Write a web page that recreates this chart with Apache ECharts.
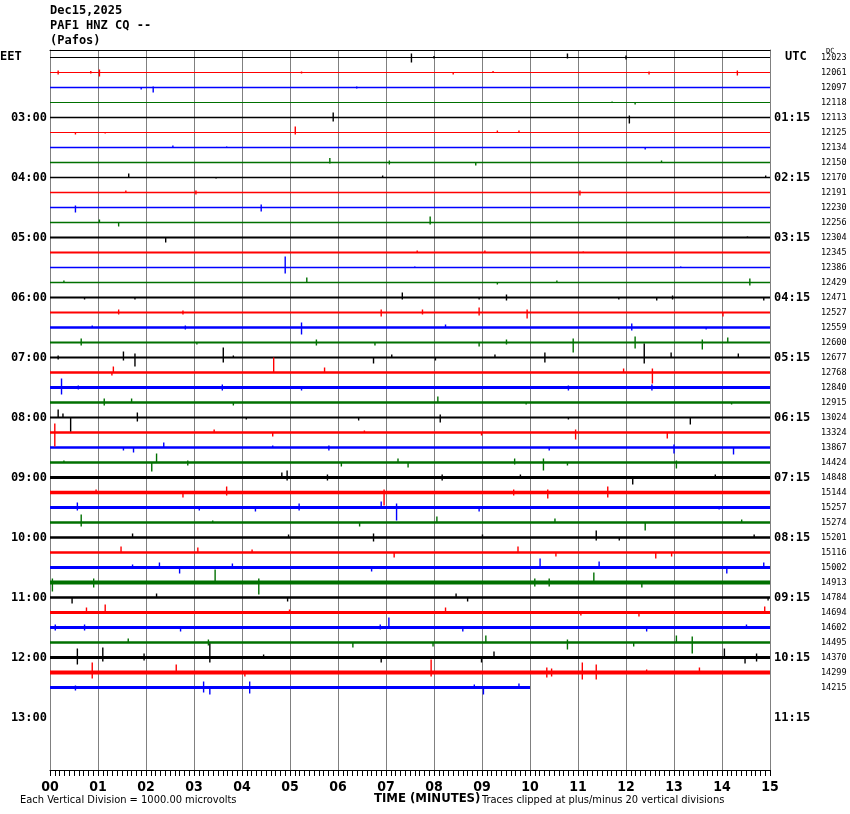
<!DOCTYPE html>
<html>
<head>
<meta charset="utf-8">
<script src="https://cdn.jsdelivr.net/npm/echarts@6/dist/echarts.min.js"></script>
<style>
html,body{margin:0;padding:0;background:#fff;}
#chart{width:850px;height:814px;}
</style>
</head>
<body>
<div id="chart"></div>
<script>
// ---------- DATA ----------
const titleLines = ['Dec15,2025', 'PAF1 HNZ CQ --', '(Pafos)'];
const minuteTicks = ['00','01','02','03','04','05','06','07','08','09','10','11','12','13','14','15'];
const hourLabelsEET = ['03:00','04:00','05:00','06:00','07:00','08:00','09:00','10:00','11:00','12:00','13:00'];
const hourLabelsUTC = ['01:15','02:15','03:15','04:15','05:15','06:15','07:15','08:15','09:15','10:15','11:15'];
const traceCounts = [12023,12061,12097,12118,12113,12125,12134,12150,12170,12191,12230,12256,12304,12345,12386,12429,
  12471,12527,12559,12600,12677,12768,12840,12915,13024,13324,13867,14424,14848,15144,15257,15274,
  15201,15116,15002,14913,14784,14694,14602,14495,14370,14299,14215];
const traceColors = ['#000000', '#ff0000', '#0000ff', '#007000'];
// background noise level of each trace (peak, in vertical divisions)
const traceNoise = [1,1,1.3,1,1.3,1,1.5,1.5,1.5,1.5,1.5,1.5,2,2,1.5,1.5,2,2,2.5,2,2,2.5,3,2.5,2,2.5,2.5,2.5,3,3.5,3,2.5,2.5,2.5,3,4,2.5,3,3,2.5,3,4,3];
// last trace stops at this minute
const lastTraceEnd = 10;
// notable wiggles for each trace: [minute, peak up, peak down] in vertical divisions
const spikes = [
  [[7.53,4,5],[8.0,1.5,1],[10.78,4,1],[12.0,2,2]],
  [[0.17,2,2],[0.85,1.5,1],[1.03,3,4],[5.24,1,1],[8.4,0,2],[9.23,1.5,0],[12.48,1,2],[14.32,2,3]],
  [[1.9,0,2],[2.15,1,5],[6.39,1,1]],
  [[11.71,1,0],[12.19,0,2]],
  [[5.9,5,4],[12.07,2,6]],
  [[0.53,0,2],[1.15,0,1],[5.11,6,2],[9.32,2,0],[9.77,2,0]],
  [[2.56,2,0],[3.68,1,0],[12.4,0,2]],
  [[5.83,4.5,1],[7.07,2,2],[8.87,0,3],[12.74,2,0]],
  [[1.64,4,0],[3.46,0,1],[6.93,2,0],[14.91,2,0]],
  [[1.58,2,0],[3.04,2,2],[11.04,2,3]],
  [[0.53,2,5],[4.4,3,4]],
  [[1.03,3,0],[1.43,0,4],[7.92,6,2]],
  [[2.41,0,5],[14.53,1,0]],
  [[7.65,2,0],[9.06,2,0],[11.11,1,0]],
  [[4.9,11,6],[7.6,1,0],[13.14,1,0]],
  [[0.29,2,0],[5.35,5,0],[9.32,0,2],[10.56,2,0],[14.58,4,3]],
  [[0.72,0,2],[1.77,0,2],[7.34,5,2],[8.94,0,2],[9.51,3,3],[11.85,0,2],[12.64,0,3],[12.97,2,2],[14.87,0,3]],
  [[1.43,3,2],[2.77,2,2],[6.9,3,4],[7.76,3,2],[8.94,5,3],[9.94,3,6],[14.02,0,4]],
  [[0.88,2,0],[2.82,2,2],[5.24,5,7],[8.24,3,0],[12.12,4,3],[13.67,0,2]],
  [[0.65,4,3],[3.06,0,2],[5.55,3,3],[6.77,0,3],[8.94,0,4],[9.51,3,2],[10.9,4,10],[12.19,6,6],[13.59,3,7],[14.12,5,0]],
  [[0.17,2,2],[1.53,6,3],[1.77,4,9],[3.61,10,5],[3.82,2,0],[6.74,0,6],[7.12,3,0],[8.03,0,3],[9.27,3,0],[10.31,5,5],[12.38,14,6],[12.94,5,0],[14.34,4,0]],
  [[1.29,0,3],[1.32,6,0],[4.66,15,0],[5.72,5,0],[11.95,4,0],[12.55,4,11]],
  [[0.24,9,7],[0.59,2,2],[3.59,3,3],[5.24,0,3],[10.8,2,3],[12.54,3,3]],
  [[1.13,4,3],[1.7,4,0],[3.82,0,3],[8.08,6,0],[9.92,0,2],[14.2,0,2]],
  [[0.17,8,0],[0.27,4,0],[0.43,0,14],[1.82,5,4],[4.09,0,2],[6.43,0,3],[8.13,3,5],[10.8,0,2],[13.34,0,7]],
  [[0.1,9,14],[3.42,3,0],[4.64,0,4],[6.55,2,0],[8.99,0,3],[10.95,3,7],[12.86,0,6]],
  [[1.53,0,3],[1.74,0,5],[2.37,5,0],[4.64,2,0],[5.81,2,3],[10.4,0,3],[13.0,3,6],[14.24,0,7]],
  [[0.29,2,0],[2.12,0,9],[2.22,9,0],[2.87,2,3],[6.07,0,4],[7.25,4,0],[7.46,0,5],[9.68,4,2],[10.28,4,8],[10.78,0,3],[13.05,2,6]],
  [[4.83,5,0],[4.94,7,3],[5.78,3,3],[8.17,3,3],[9.8,3,0],[12.14,0,7],[13.86,3,0]],
  [[0.96,3,0],[2.77,0,5],[3.68,6,3],[6.96,3,13],[9.66,3,3],[10.37,3,6],[11.62,6,5]],
  [[0.57,5,3],[3.11,0,3],[4.28,0,4],[5.19,4,3],[6.9,6,0],[7.22,4,13],[8.94,0,4],[13.94,0,2]],
  [[0.65,8,4],[3.39,2,0],[6.45,0,4],[8.06,6,0],[10.52,4,0],[12.4,0,8],[14.41,3,0]],
  [[1.72,4,0],[4.97,3,0],[6.74,4,4],[9.01,3,0],[11.38,7,3],[11.86,0,3],[14.67,3,0]],
  [[1.48,6,0],[3.08,5,0],[4.21,3,0],[7.17,0,5],[9.75,6,0],[10.54,0,4],[12.62,0,6],[12.95,0,4]],
  [[1.72,3,0],[2.28,5,0],[2.7,0,6],[3.8,4,0],[6.7,0,4],[10.21,9,0],[11.44,6,0],[14.1,0,6],[14.87,5,0]],
  [[0.05,4,9],[0.91,4,5],[3.44,13,0],[4.35,4,12],[10.1,4,4],[10.4,4,4],[11.33,10,0],[12.33,0,5]],
  [[0.46,0,6],[2.22,4,0],[4.95,0,4],[8.46,4,0],[8.7,0,4],[14.96,0,3]],
  [[0.76,5,0],[1.15,8,0],[4.99,3,0],[8.24,5,0],[11.06,0,3],[12.27,0,4],[14.89,6,0]],
  [[0.11,3,3],[0.72,3,3],[2.72,0,4],[6.88,3,2],[7.06,10,0],[8.6,0,4],[12.43,0,4],[14.51,3,0]],
  [[1.63,4,0],[3.3,3,3],[6.31,0,5],[7.98,0,4],[9.08,7,0],[10.78,3,7],[12.16,0,4],[13.05,7,0],[13.38,6,11]],
  [[0.57,9,7],[1.1,10,4],[1.96,4,3],[3.33,14,5],[4.45,3,0],[6.9,0,5],[8.99,0,5],[9.25,6,0],[14.05,9,0],[14.48,0,6],[14.72,4,4]],
  [[0.88,10,6],[2.63,8,0],[4.06,0,4],[7.94,13,4],[10.35,5,5],[10.45,4,4],[11.09,10,7],[11.38,8,7],[12.43,3,0],[13.53,5,0]],
  [[0.53,2,3],[3.2,6,5],[3.33,0,7],[4.16,6,6],[8.84,3,0],[9.03,0,7],[9.77,4,0]]
];
const DIV_PER_TRACE = 15;   // vertical divisions between neighbouring traces
const TRACE_SLOTS = 48;     // 12 hours x 4 traces per hour

// ---------- BUILD ----------
const monoBold = "'DejaVu Sans Mono', monospace";
const narrow = "'Liberation Sans Narrow','DejaVu Sans Condensed',sans-serif";
const series = [];
spikes.forEach((ev, i) => {
  const color = traceColors[i % 4];
  const tEnd = (i === spikes.length - 1) ? lastTraceEnd : 15;
  // baseline / background noise band
  series.push({
    type: 'line', silent: true, symbol: 'none', animation: false,
    data: [[0, i], [tEnd, i]],
    lineStyle: { color: color, width: traceNoise[i] },
    z: 2
  });
  // wiggles: vertical strokes from the peak up to the peak down
  series.push({
    type: 'custom', silent: true, animation: false, z: 3,
    data: ev.map(([t, up, dn]) => [t, i, i - up / DIV_PER_TRACE, i + dn / DIV_PER_TRACE]),
    encode: { x: 0, y: [1, 2, 3] },
    renderItem: (params, api) => {
      const top = api.coord([api.value(0), api.value(2)]);
      const bot = api.coord([api.value(0), api.value(3)]);
      return {
        type: 'line',
        shape: { x1: top[0], y1: top[1], x2: bot[0], y2: bot[1] },
        style: { stroke: color, lineWidth: 1.4 }
      };
    }
  });
});

const hourVals = hourLabelsEET.map((_, k) => (k + 1) * 4);
const countVals = traceCounts.map((_, k) => k);

const chart = echarts.init(document.getElementById('chart'), null, { renderer: 'canvas' });
chart.setOption({
  animation: false,
  backgroundColor: '#ffffff',
  grid: { left: 50, right: 80, top: 50, bottom: 44 },
  xAxis: [{
    type: 'value', min: 0, max: 15, interval: 1, position: 'bottom',
    axisLine: { show: true, onZero: false, lineStyle: { color: '#000', width: 1 } },
    axisTick: { show: true, length: 6, lineStyle: { color: '#000' } },
    minorTick: { show: true, splitNumber: 10, length: 6, lineStyle: { color: '#000' } },
    splitLine: { show: true, lineStyle: { color: '#808080', width: 1 } },
    axisLabel: { margin: 10, color: '#000', fontFamily: narrow, fontWeight: 'bold', fontSize: 14,
      formatter: v => minuteTicks[Math.round(v)] }
  }, {
    type: 'value', min: 0, max: 15, interval: 1, position: 'top',
    axisLine: { show: true, onZero: false, lineStyle: { color: '#000', width: 1 } },
    axisTick: { show: false }, minorTick: { show: false }, axisLabel: { show: false }, splitLine: { show: false }
  }],
  yAxis: [{
    type: 'value', inverse: true, min: -0.5, max: TRACE_SLOTS - 0.5, position: 'left',
    axisLine: { show: true, onZero: false, lineStyle: { color: '#808080' } },
    axisTick: { show: false }, splitLine: { show: false },
    axisLabel: { customValues: hourVals, margin: 3, color: '#000', fontFamily: monoBold, fontWeight: 'bold', fontSize: 12,
      formatter: v => hourLabelsEET[Math.round(v / 4) - 1] }
  }, {
    type: 'value', inverse: true, min: -0.5, max: TRACE_SLOTS - 0.5, position: 'right',
    axisLine: { show: true, onZero: false, lineStyle: { color: '#808080' } },
    axisTick: { show: false }, splitLine: { show: false },
    axisLabel: { customValues: hourVals, margin: 4, color: '#000', fontFamily: monoBold, fontWeight: 'bold', fontSize: 12,
      formatter: v => hourLabelsUTC[Math.round(v / 4) - 1] }
  }, {
    type: 'value', inverse: true, min: -0.5, max: TRACE_SLOTS - 0.5, position: 'right', offset: 50,
    axisLine: { show: false, onZero: false }, axisTick: { show: false }, splitLine: { show: false },
    axisLabel: { customValues: countVals, margin: 1, color: '#000', fontFamily: monoBold, fontSize: 8.5,
      formatter: v => String(traceCounts[Math.round(v)]) }
  }],
  series: series,
  graphic: [
    { type: 'text', left: 50, top: 5, style: { text: titleLines[0], font: "bold 12px 'DejaVu Sans Mono'", fill: '#000' } },
    { type: 'text', left: 50, top: 20, style: { text: titleLines[1], font: "bold 12px 'DejaVu Sans Mono'", fill: '#000' } },
    { type: 'text', left: 50, top: 35, style: { text: titleLines[2], font: "bold 12px 'DejaVu Sans Mono'", fill: '#000' } },
    { type: 'text', left: 0, top: 51, style: { text: 'EET', font: "bold 12px 'DejaVu Sans Mono'", fill: '#000' } },
    { type: 'text', left: 785, top: 51, style: { text: 'UTC', font: "bold 12px 'DejaVu Sans Mono'", fill: '#000' } },
    { type: 'text', left: 826, top: 48, style: { text: 'DC', font: "7px 'DejaVu Sans Mono'", fill: '#000' } },
    { type: 'text', left: 374, top: 792, style: { text: 'TIME (MINUTES)', font: "bold 13px " + narrow, fill: '#000' } },
    { type: 'text', left: 20, top: 795, style: { text: 'Each Vertical Division = 1000.00 microvolts', font: "11px " + narrow, fill: '#000' } },
    { type: 'text', left: 482, top: 795, style: { text: 'Traces clipped at plus/minus 20 vertical divisions', font: "11px " + narrow, fill: '#000' } }
  ]
});
</script>
</body>
</html>
